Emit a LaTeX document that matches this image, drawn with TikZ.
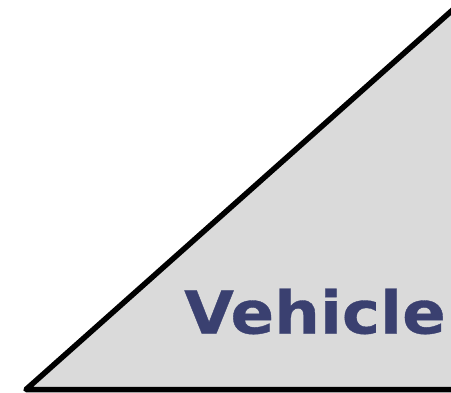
\documentclass[tikz,border=0pt]{standalone}
\usepackage{fontspec}
\setmainfont{DejaVu Sans}
\newfontfamily\vehiclefont[FakeStretch=1.09,FakeBold=0.6]{DejaVu Sans Bold}
\usepackage{xcolor}
\usepackage{tikz}
\definecolor{vehicleblue}{RGB}{58,64,112}
\definecolor{wedgegray}{RGB}{218,218,218}

\begin{document}
\begin{tikzpicture}[x=1pt, y=-1pt]
		\useasboundingbox (0,0) rectangle (451,392);
		\clip (0,0) rectangle (451,392);
		\coordinate (a) at (26,389.5);
		\coordinate (b) at (520,389.5);
		\coordinate (c) at (520,-50);
		\filldraw[fill=wedgegray, draw=black, line width=5.5pt, line join=round] (a) -- (b) -- (c) -- cycle;
		\node[anchor=base west, inner sep=0pt, text=vehicleblue, font=\vehiclefont\fontsize{59}{59}\selectfont] (label) at (184,333.5) {Vehicle};
	\end{tikzpicture}
\end{document}
